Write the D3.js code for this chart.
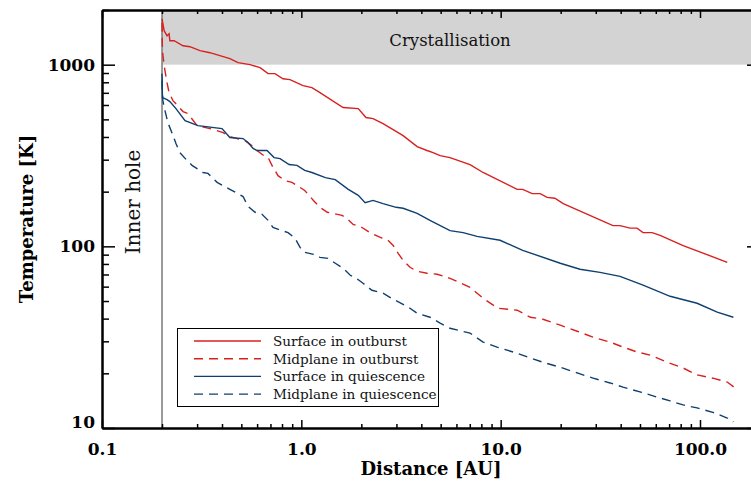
<!DOCTYPE html>
<html lang="en">
<head>
<meta charset="UTF-8">
<title>disc temperature</title>
<style>
  body { margin: 0; background: #fff; }
  svg { display: block; background: #fff; }
  .axis path.domain { stroke: #000; stroke-width: 2px; }
  .axis .tick line { stroke: #000; stroke-width: 1.5px; }
  .axis .tick text { font-family: "DejaVu Serif", serif; font-size: 17px; font-weight: bold; fill: #000; }
  .title { font-family: "DejaVu Serif", serif; font-size: 18px; font-weight: bold; fill: #000; }
  .note { font-family: "DejaVu Serif", serif; font-size: 16.5px; fill: #111; }
  .legend text { font-family: "DejaVu Serif", serif; font-size: 13.6px; fill: #111; }
</style>
</head>
<body>
<div class="content"></div>
<script src="https://cdn.jsdelivr.net/npm/d3@7/dist/d3.min.js"></script>
<script>
  // distance [AU] and temperature [K]
  var surfOutDist = [0.200, 0.205, 0.212, 0.217, 0.219, 0.230, 0.255, 0.276, 0.310, 0.348, 0.438, 0.481, 0.553, 0.621, 0.681, 0.738, 0.809, 0.877, 1.02, 1.13, 1.24, 1.62, 1.93, 2.11, 2.29, 2.57, 3.24, 3.81, 4.27, 4.58, 4.97, 5.57, 7.02, 8.16, 12.1, 12.9, 14.4, 15.8, 17.1, 18.7, 20.6, 36.6, 39.7, 44.6, 48.3, 51.8, 57.5, 63.1, 82.3, 137];
  var surfOutTemp = [1790, 1538, 1443, 1480, 1355, 1355, 1271, 1256, 1194, 1164, 1079, 1026, 1000, 963, 893, 893, 837, 827, 767, 748, 702, 581, 573, 512, 505, 474, 407, 354, 337, 328, 316, 308, 282, 255, 206, 206, 195, 195, 186, 184, 172, 130, 130, 126, 126, 119, 119, 115, 101, 81.7];

  var midOutDist = [0.200, 0.201, 0.205, 0.212, 0.217, 0.227, 0.255, 0.270, 0.300, 0.348, 0.405, 0.438, 0.476, 0.522, 0.573, 0.599, 0.657, 0.681, 0.721, 0.764, 0.828, 0.898, 0.985, 1.04, 1.15, 1.24, 1.35, 1.43, 1.60, 1.70, 1.82, 1.97, 2.21, 2.54, 2.72, 2.89, 3.06, 3.24, 3.51, 3.81, 4.27, 4.80, 5.57, 7.02, 8.16, 9.70, 12.1, 14.1, 16.3, 19.9, 24.2, 29.1, 35.4, 41.1, 48.3, 56.2, 68.4, 82.3, 96.7, 116, 137, 150];
  var midOutTemp = [1701, 1194, 987, 796, 702, 634, 552, 538, 462, 445, 423, 402, 392, 382, 354, 337, 312, 308, 272, 245, 230, 225, 211, 203, 179, 164, 154, 152, 148, 142, 132, 129, 119, 111, 108, 101, 91.5, 83.8, 76.7, 72.9, 71.1, 70.2, 66.7, 59.5, 51.8, 45.6, 44.5, 40.7, 39.7, 36.8, 34.1, 31.6, 29.7, 27.9, 26.2, 25.2, 23.0, 21.4, 19.6, 18.8, 17.9, 16.6];

  var surfQuiDist = [0.200, 0.201, 0.212, 0.219, 0.235, 0.261, 0.303, 0.400, 0.438, 0.510, 0.540, 0.573, 0.599, 0.673, 0.730, 0.782, 0.868, 0.951, 1.04, 1.13, 1.32, 1.48, 1.72, 1.93, 2.09, 2.29, 2.57, 2.99, 3.24, 3.81, 4.42, 5.57, 6.48, 7.61, 9.93, 12.9, 19.9, 25.0, 31.5, 39.7, 51.8, 70.8, 96.7, 122, 147];
  var surfQuiTemp = [893, 659, 642, 626, 573, 492, 462, 445, 397, 392, 373, 346, 337, 337, 308, 304, 282, 279, 262, 255, 239, 233, 206, 191, 174, 179, 172, 164, 162, 152, 139, 122, 119, 113.5, 108, 95.1, 80.7, 74.8, 71.9, 68.4, 61.1, 53.1, 48.6, 43.4, 40.7];

  var midQuiDist = [0.200, 0.202, 0.207, 0.214, 0.225, 0.235, 0.246, 0.267, 0.283, 0.321, 0.340, 0.378, 0.438, 0.481, 0.510, 0.540, 0.586, 0.635, 0.681, 0.721, 0.800, 0.858, 0.930, 0.985, 1.04, 1.15, 1.24, 1.36, 1.48, 1.62, 1.76, 1.86, 2.04, 2.26, 2.57, 2.89, 3.39, 3.81, 4.42, 4.97, 5.57, 7.02, 8.16, 9.59, 12.1, 14.1, 16.3, 19.9, 24.2, 29.1, 35.4, 41.1, 50.0, 60.9, 70.8, 82.3, 96.7, 116, 137, 147];
  var midQuiTemp = [817, 634, 559, 480, 418, 368, 328, 297, 279, 255, 252, 225, 206, 195, 188, 166, 154, 150, 139, 127, 122, 119, 110.7, 98.7, 92.7, 90.4, 87.0, 85.9, 80.7, 75.7, 69.3, 67.5, 62.6, 57.3, 55.2, 51.1, 46.8, 42.8, 40.7, 37.8, 35.4, 33.3, 29.7, 27.9, 25.8, 24.3, 23.0, 21.6, 20.1, 18.8, 17.7, 16.8, 15.8, 14.8, 14.1, 13.4, 12.9, 12.2, 11.35, 10.8];

  var seriesNames = ["Surface in outburst", "Midplane in outburst", "Surface in quiescence", "Midplane in quiescence"];
  var xMajor = [0.1, 1, 10, 100];
  var yMajor = [10, 100, 1000];
  var innerHole = 0.2;          // AU
  var crystalRange = [1000, 2000]; // K

  var width = 751, height = 483;
  var red = "#d8201e", blue = "#0e3f6f";

  var series = [
    { name: seriesNames[0], dist: surfOutDist, temp: surfOutTemp, color: red, dash: null },
    { name: seriesNames[1], dist: midOutDist, temp: midOutTemp, color: red, dash: "9,6" },
    { name: seriesNames[2], dist: surfQuiDist, temp: surfQuiTemp, color: blue, dash: null },
    { name: seriesNames[3], dist: midQuiDist, temp: midQuiTemp, color: blue, dash: "9,6" }
  ];

  var x = d3.scaleLog().domain([0.1, 200]).range([102, 760]);
  var y = d3.scaleLog().domain([10, 2000]).range([428, 10]);

  var svg = d3.select(".content").append("svg")
    .attr("width", width)
    .attr("height", height);

  // crystallisation band
  svg.append("rect")
    .attr("x", x(innerHole))
    .attr("y", y(crystalRange[1]))
    .attr("width", x.range()[1] - x(innerHole))
    .attr("height", y(crystalRange[0]) - y(crystalRange[1]))
    .attr("fill", "#d3d3d3");

  svg.append("text")
    .attr("class", "note")
    .attr("x", 450)
    .attr("y", 46)
    .attr("text-anchor", "middle")
    .text("Crystallisation");

  // inner hole marker
  svg.append("line")
    .attr("x1", x(innerHole)).attr("x2", x(innerHole))
    .attr("y1", y.range()[0]).attr("y2", y.range()[1])
    .attr("stroke", "#7a7a7a")
    .attr("stroke-width", 1.5);

  svg.append("text")
    .attr("class", "note")
    .attr("transform", "translate(140," + 202 + ") rotate(-90)")
    .attr("text-anchor", "middle")
    .style("font-size", "20px")
    .text("Inner hole");

  // lines
  var line = d3.line()
    .x(function (d) { return x(d[0]); })
    .y(function (d) { return y(d[1]); });

  svg.selectAll(".series")
    .data(series)
    .enter().append("path")
    .attr("class", "series")
    .attr("fill", "none")
    .attr("stroke", function (d) { return d.color; })
    .attr("stroke-width", 1.4)
    .attr("stroke-dasharray", function (d) { return d.dash; })
    .attr("d", function (d) { return line(d3.zip(d.dist, d.temp)); });

  // axes
  function minorTicks(scale) {
    return scale.ticks().filter(function (v) {
      var e = Math.log10(v);
      return Math.abs(e - Math.round(e)) > 1e-6;
    });
  }
  var xMinor = minorTicks(x), yMinor = minorTicks(y);

  var fmtX = d3.format(".1f");

  svg.append("g").attr("class", "axis")
    .attr("transform", "translate(0," + y.range()[0] + ")")
    .call(d3.axisBottom(x).tickValues(xMajor).tickFormat(fmtX).tickSize(-8).tickSizeOuter(0).tickPadding(15));
  svg.append("g").attr("class", "axis")
    .attr("transform", "translate(0," + y.range()[0] + ")")
    .call(d3.axisBottom(x).tickValues(xMinor).tickFormat("").tickSize(-4).tickSizeOuter(0));

  svg.append("g").attr("class", "axis")
    .attr("transform", "translate(0," + y.range()[1] + ")")
    .call(d3.axisTop(x).tickValues(xMajor).tickFormat("").tickSize(-8).tickSizeOuter(0));
  svg.append("g").attr("class", "axis")
    .attr("transform", "translate(0," + y.range()[1] + ")")
    .call(d3.axisTop(x).tickValues(xMinor).tickFormat("").tickSize(-4).tickSizeOuter(0));

  var yAxis = svg.append("g").attr("class", "axis")
    .attr("transform", "translate(" + x.range()[0] + ",0)")
    .call(d3.axisLeft(y).tickValues(yMajor).tickFormat(d3.format("d")).tickSize(-13).tickSizeOuter(0).tickPadding(7));
  svg.append("g").attr("class", "axis")
    .attr("transform", "translate(" + x.range()[0] + ",0)")
    .call(d3.axisLeft(y).tickValues(yMinor).tickFormat("").tickSize(-7).tickSizeOuter(0));

  svg.append("g").attr("class", "axis")
    .attr("transform", "translate(" + x.range()[1] + ",0)")
    .call(d3.axisRight(y).tickValues(yMajor).tickFormat("").tickSize(-13).tickSizeOuter(0));
  svg.append("g").attr("class", "axis")
    .attr("transform", "translate(" + x.range()[1] + ",0)")
    .call(d3.axisRight(y).tickValues(yMinor).tickFormat("").tickSize(-7).tickSizeOuter(0));

  // bottom label sits a little higher in the original
  yAxis.selectAll(".tick text").filter(function (d) { return d === 10; }).attr("dy", "-0.05em");

  // titles
  svg.append("text")
    .attr("class", "title")
    .attr("x", (x.range()[0] + x.range()[1]) / 2)
    .attr("y", 475)
    .attr("text-anchor", "middle")
    .text("Distance [AU]");

  svg.append("text")
    .attr("class", "title")
    .attr("transform", "translate(33," + (y.range()[0] + y.range()[1]) / 2 + ") rotate(-90)")
    .attr("text-anchor", "middle")
    .text("Temperature [K]");

  // legend
  var legend = svg.append("g").attr("class", "legend");
  legend.append("rect")
    .attr("x", 177.5).attr("y", 328.5)
    .attr("width", 261).attr("height", 78)
    .attr("fill", "#fff")
    .attr("stroke", "#000")
    .attr("stroke-width", 1);

  var row = legend.selectAll(".row")
    .data(series)
    .enter().append("g")
    .attr("class", "row")
    .attr("transform", function (d, i) { return "translate(194," + (341 + i * 17.7) + ")"; });

  row.append("line")
    .attr("x1", 0).attr("x2", 67)
    .attr("stroke", function (d) { return d.color; })
    .attr("stroke-width", 1.4)
    .attr("stroke-dasharray", function (d) { return d.dash; });

  row.append("text")
    .attr("x", 79)
    .attr("y", 5)
    .text(function (d) { return d.name; });
</script>
</body>
</html>
